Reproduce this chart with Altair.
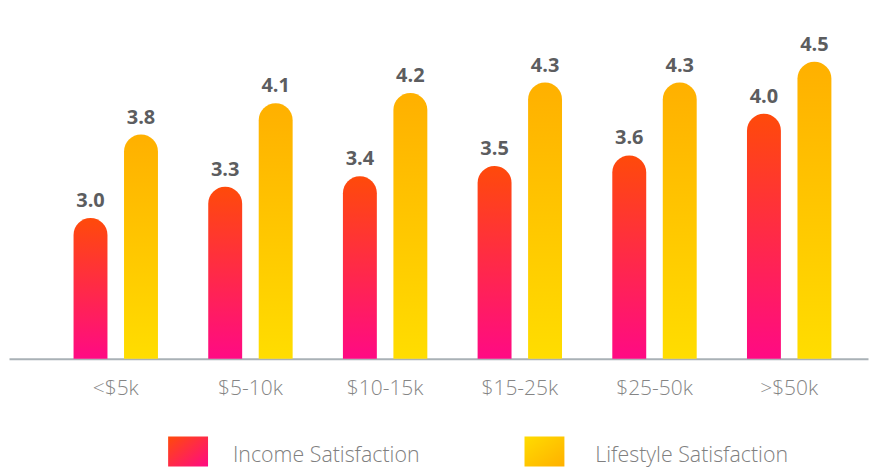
import altair as alt
import pandas as pd

groups = ["<$5k", "$5-10k", "$10-15k", "$15-25k", "$25-50k", ">$50k"]
series = ["Income Satisfaction", "Lifestyle Satisfaction"]
income = [3.0, 3.3, 3.4, 3.5, 3.6, 4.0]
lifestyle = [3.8, 4.1, 4.2, 4.3, 4.3, 4.5]

rows = []
for g, a, b in zip(groups, income, lifestyle):
    rows.append({"group": g, "series": series[0], "value": a})
    rows.append({"group": g, "series": series[1], "value": b})
df = pd.DataFrame(rows)


def grad(c0, c1, x2=0, y2=1):
    return alt.LinearGradient(
        gradient="linear",
        stops=[alt.GradientStop(color=c0, offset=0), alt.GradientStop(color=c1, offset=1)],
        x1=0, y1=0, x2=x2, y2=y2,
    )


inc_bar = grad("#ff4a0a", "#ff0a84")
life_bar = grad("#ffb000", "#ffdd00")
inc_leg = grad("#ff4a0a", "#ff0a84", 1, 1)
life_leg = grad("#ffdc00", "#ffb000", 1, 1)

W = 861
YMIN = 1.65

x = alt.X(
    "group:N", sort=groups,
    scale=alt.Scale(paddingInner=0, paddingOuter=0.1889, align=0.7745),
    axis=alt.Axis(title=None, ticks=False, grid=False, domainColor="#a9b1b6", domainWidth=2,
                  labelFont="Open Sans", labelFontSize=21, labelFontWeight=300,
                  labelColor="#858585", labelPadding=19, labelAngle=0),
)
xo = alt.XOffset("series:N", sort=series,
                 scale=alt.Scale(domain=series, paddingInner=0.328, paddingOuter=0.498))
y = alt.Y("value:Q", scale=alt.Scale(domain=[YMIN, 5], zero=False, nice=False, clamp=True), axis=None)

base = alt.Chart(df).encode(x=x, xOffset=xo, y=y)

bars_inc = base.transform_filter(alt.datum.series == series[0]).mark_bar(
    fill=inc_bar, cornerRadiusTopLeft=17, cornerRadiusTopRight=17).encode(y2=alt.datum(YMIN))
bars_life = base.transform_filter(alt.datum.series == series[1]).mark_bar(
    fill=life_bar, cornerRadiusTopLeft=17, cornerRadiusTopRight=17).encode(y2=alt.datum(YMIN))
labels = base.mark_text(font="Open Sans", fontWeight="bold", fontSize=20, color="#5c5d5f",
                        baseline="alphabetic", dy=-11).encode(text=alt.Text("value:Q", format=".1f"))

main = alt.layer(bars_inc, bars_life, labels).properties(width=W, height=350)

legend_df = pd.DataFrame({"series": series})
lx = alt.X("series:N", sort=series, scale=alt.Scale(type="point", padding=0.7052, align=0.3563), axis=None)
lbase = alt.Chart(legend_df).encode(x=lx)
sq_inc = lbase.transform_filter(alt.datum.series == series[0]).mark_bar(width=40, fill=inc_leg).encode(
    y=alt.value(0), y2=alt.value(30))
sq_life = lbase.transform_filter(alt.datum.series == series[1]).mark_bar(width=40, fill=life_leg).encode(
    y=alt.value(0), y2=alt.value(30))
text_style = dict(align="left", baseline="alphabetic", fontSize=21.4, font="Open Sans",
                  fontWeight=300, color="#808080")
ltext_inc = lbase.transform_filter(alt.datum.series == series[0]).mark_text(dx=45, **text_style).encode(
    y=alt.value(26), text="series:N")
ltext_life = lbase.transform_filter(alt.datum.series == series[1]).mark_text(dx=51, **text_style).encode(
    y=alt.value(26), text="series:N")
legend = alt.layer(sq_inc, sq_life, ltext_inc, ltext_life).properties(width=W, height=30)

chart = alt.vconcat(main, legend, spacing=36).configure_view(stroke="transparent").properties(
    padding=0, background="#ffffff")

chart.save("out.html", embed_options={"renderer": "svg", "actions": False})
